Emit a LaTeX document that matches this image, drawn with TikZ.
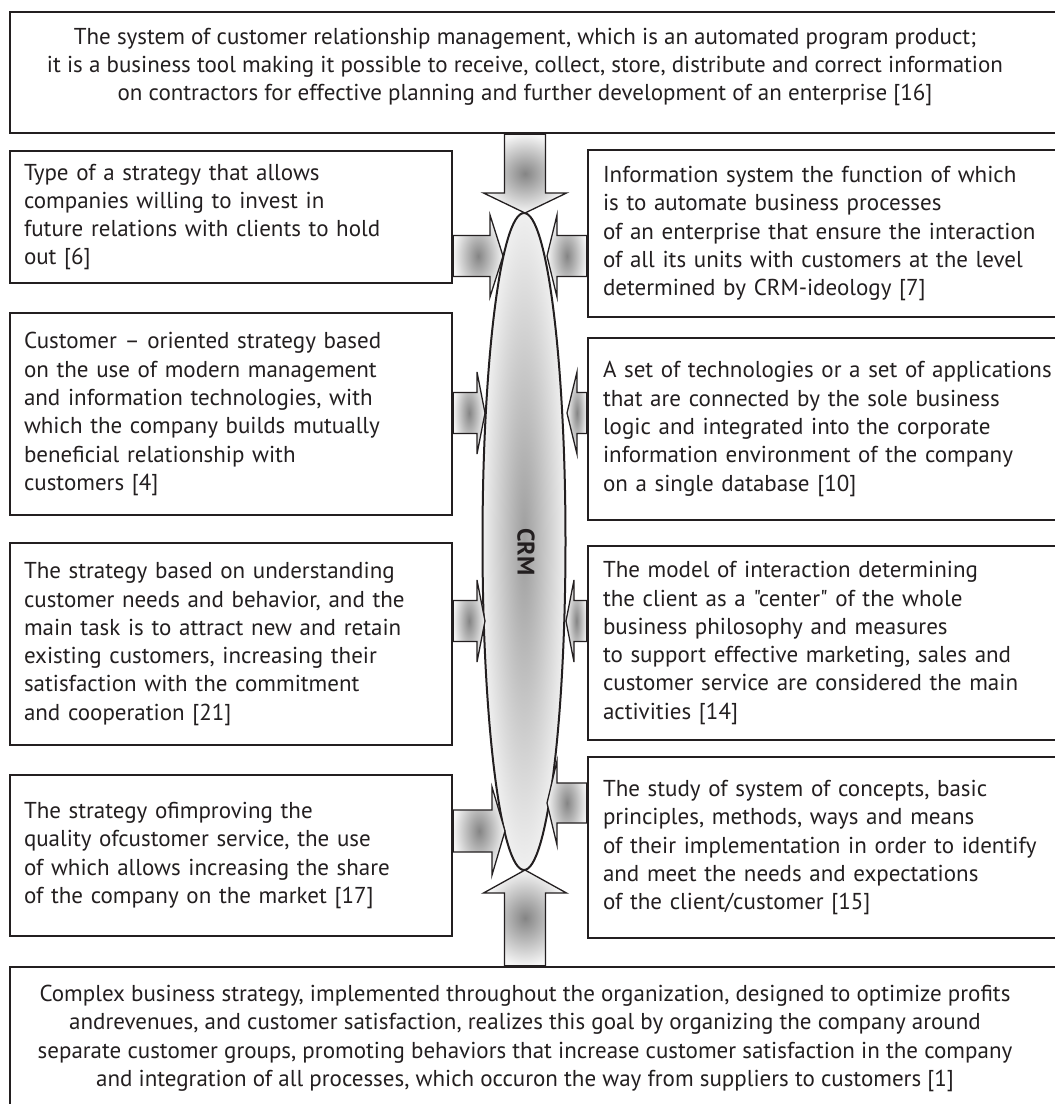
\documentclass[tikz,border=0pt]{standalone}
\usepackage{fontspec}
\setmainfont{PT Sans}[Ligatures=TeXOff]
\usetikzlibrary{calc,shapes.geometric}

\definecolor{ink}{RGB}{35,31,32}

\newcommand\sidearrow[5]{%
  \path[arrowbody] let \p1=(#1), \p2=(#2) in
    (\x1,{\y2+#4}) -- ({\x2-(#3)},{\y2+#4}) -- ({\x2-(#3)},{\y2+#5}) -- (\x2,\y2)
    -- ({\x2-(#3)},{\y2-#5}) -- ({\x2-(#3)},{\y2-#4}) -- (\x1,{\y2-#4}) -- cycle;}
\newcommand\vertarrow[5]{%
  \path[arrowbody] let \p1=(#1), \p2=(#2) in
    ({\x2-#4},\y1) -- ({\x2-#4},{\y2+(#3)}) -- ({\x2-#5},{\y2+(#3)}) -- (\x2,\y2)
    -- ({\x2+#5},{\y2+(#3)}) -- ({\x2+#4},{\y2+(#3)}) -- ({\x2+#4},\y1) -- cycle;}

\begin{document}
\begin{tikzpicture}[x=1pt, y=-1pt,
  every node/.style={font=\fontsize{23}{28.3}\selectfont, text=ink},
  framebox/.style={draw=ink, line width=2.4pt, inner ysep=0pt},
  leftbox/.style={framebox, text width=414pt, inner xsep=14pt, align=left, minimum width=442pt},
  rightbox/.style={framebox, text width=470pt, inner xsep=15pt, align=left, minimum width=500pt},
  arrowbody/.style={draw=ink, line width=1.3pt, shading=radial, inner color=black!48, outer color=black!4},
  core/.style={ellipse, draw=ink, line width=2pt, inner sep=0pt, shading=radial, inner color=black!38, outer color=black!6}]

\useasboundingbox[fill=white] (0,0) rectangle (1055,1104);

\node[framebox, minimum width=1052pt, minimum height=121pt] (top) at (536,72.5) {};
\node[align=center] (toptext) at (525,67) {The system of customer relationship management, which is an automated program product;\\
  it is a business tool making it possible to receive, collect, store, distribute and correct information\\
  on contractors for effective planning and further development of an enterprise [16]};

\node[leftbox, minimum height=132pt] (strat1) at (231,217) {Type of a strategy that allows\\companies willing to invest in\\future relations with clients to hold\\out [6]};
\node[leftbox, minimum height=202pt] (strat2) at (231,414) {Customer – oriented strategy based\\on the use of modern management\\and information technologies, with\\which the company builds mutually\\beneficial relationship with\\customers [4]};
\node[leftbox, minimum height=202pt] (strat3) at (231,644) {The strategy based on understanding\\customer needs and behavior, and the\\main task is to attract new and retain\\existing customers, increasing their\\satisfaction with the commitment\\and cooperation [21]};
\node[leftbox, minimum height=161pt] (strat4) at (231,855.5) {The strategy ofimproving the\\quality ofcustomer service, the use\\of which allows increasing the share\\of the company on the market [17]};

\node[rightbox, minimum height=167pt] (sys1) at (838,233.5) {Information system the function of which\\is to automate business processes\\of an enterprise that ensure the interaction\\of all its units with customers at the level\\determined by CRM-ideology [7]};
\node[rightbox, minimum height=182pt] (sys2) at (838,429) {A set of technologies or a set of applications\\that are connected by the sole business\\logic and integrated into the corporate\\information environment of the company\\on a single database [10]};
\node[rightbox, minimum height=194pt] (sys3) at (838,643) {The model of interaction determining\\the client as a "center" of the whole\\business philosophy and measures\\to support effective marketing, sales and\\customer service are considered the main\\activities [14]};
\node[rightbox, minimum height=181pt] (sys4) at (838,847.5) {The study of system of concepts, basic\\principles, methods, ways and means\\of their implementation in order to identify\\and meet the needs and expectations\\of the client/customer [15]};

\node[framebox, minimum width=1052pt, minimum height=143pt] (bottom) at (536,1038.5) {};
\node[align=center] (bottomtext) at (525,1038.5) {Complex business strategy, implemented throughout the organization, designed to optimize profits\\
  andrevenues, and customer satisfaction, realizes this goal by organizing the company around\\
  separate customer groups, promoting behaviors that increase customer satisfaction in the company\\
  and integration of all processes, which occuron the way from suppliers to customers [1]};

\node[core, minimum width=83pt, minimum height=657pt] (crm) at (524,541.5) {};
\node[rotate=-90, font=\fontsize{24}{28}\selectfont\bfseries] (crmlabel) at (526,552) {CRM};

\coordinate (ttop) at (525,213);
\coordinate (tbottom) at (525,870);
\coordinate (tl1) at (503,256);
\coordinate (tl2) at (485,413);
\coordinate (tl3) at (485,621);
\coordinate (tl4) at (505,831);
\coordinate (tr1) at (547,256);
\coordinate (tr2) at (567,413);
\coordinate (tr3) at (566,621);
\coordinate (tr4) at (547,803);

\vertarrow{top.south}{ttop}{20pt}{20.5pt}{41.5pt}
\vertarrow{bottom.north}{tbottom}{-23pt}{20.5pt}{41.5pt}
\sidearrow{strat1.east}{tl1}{13pt}{20.5pt}{41pt}
\sidearrow{strat2.east}{tl2}{8pt}{20.5pt}{41pt}
\sidearrow{strat3.east}{tl3}{8pt}{20.5pt}{41pt}
\sidearrow{strat4.east}{tl4}{13pt}{21pt}{44pt}
\sidearrow{sys1.west}{tr1}{-10pt}{20.5pt}{41pt}
\sidearrow{sys2.west}{tr2}{-10pt}{20.5pt}{41pt}
\sidearrow{sys3.west}{tr3}{-8pt}{20.5pt}{41pt}
\sidearrow{sys4.west}{tr4}{-10pt}{20pt}{42pt}
\end{tikzpicture}
\end{document}
